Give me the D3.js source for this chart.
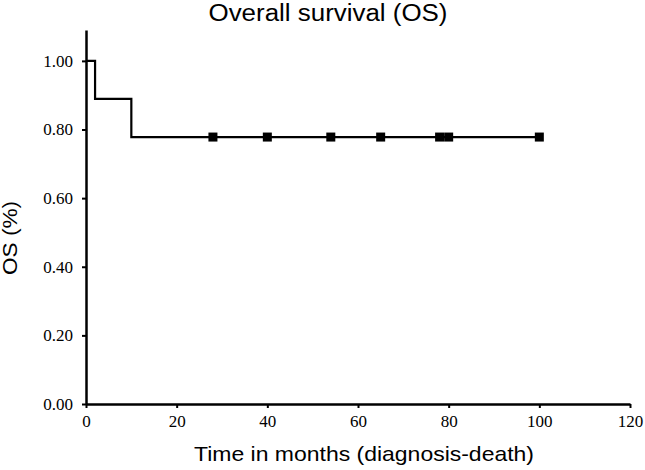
<!DOCTYPE html>
<html>
<head>
<meta charset="utf-8">
<script src="https://cdn.jsdelivr.net/npm/d3@7"></script>
<style>
  body { margin: 0; background: #fff; }
</style>
</head>
<body>
<script>
// survival steps: time (months) where survival changes, and the level after it
var stepTimes = [0, 2, 10, 100];
var stepLevels = [1.0, 0.889, 0.778, 0.778];
// censored patients (months)
var censorTimes = [28, 40, 54, 65, 78, 80, 100];
var xTicks = [0, 20, 40, 60, 80, 100, 120];
var yTicks = [0, 0.2, 0.4, 0.6, 0.8, 1.0];

function drawChart() {
  var width = 645, height = 470;
  var svg = d3.select("body").append("svg")
    .attr("width", width)
    .attr("height", height);

  var x = d3.scaleLinear().domain([0, 120]).range([86, 630]);
  var y = d3.scaleLinear().domain([0, 1.09]).range([404, 30]);

  // axes
  svg.append("g")
    .attr("transform", "translate(0," + y(0) + ")")
    .call(d3.axisBottom(x).tickValues(xTicks).tickSize(4).tickSizeOuter(0).tickFormat(d3.format("d")))
    .call(function(g) {
      g.select(".domain").attr("stroke-width", 2.5);
      g.selectAll(".tick line").attr("stroke-width", 2);
      g.selectAll("text").attr("font-family", "Liberation Serif").attr("font-size", 17)
        .attr("fill", "#000").attr("y", 23).attr("dy", 0);
    });

  svg.append("g")
    .attr("transform", "translate(" + x(0) + ",0)")
    .call(d3.axisLeft(y).tickValues(yTicks).tickSize(4).tickSizeOuter(0).tickFormat(d3.format(".2f")))
    .call(function(g) {
      g.select(".domain").attr("stroke-width", 2.5);
      g.selectAll(".tick line").attr("stroke-width", 2);
      g.selectAll("text").attr("font-family", "Liberation Serif").attr("font-size", 17)
        .attr("fill", "#000").attr("x", -13);
    });

  // KM step line
  var pts = stepTimes.map(function(t, i) { return [t, stepLevels[i]]; });
  var line = d3.line()
    .x(function(d) { return x(d[0]); })
    .y(function(d) { return y(d[1]); })
    .curve(d3.curveStepAfter);

  svg.append("path")
    .attr("d", line(pts))
    .attr("fill", "none")
    .attr("stroke", "#000")
    .attr("stroke-width", 2.2);

  // censor marks
  var lastLevel = stepLevels[stepLevels.length - 1];
  var s = 9;
  svg.selectAll("rect.censor")
    .data(censorTimes)
    .enter().append("rect")
    .attr("class", "censor")
    .attr("x", function(d) { return x(d) - s / 2; })
    .attr("y", y(lastLevel) - s / 2)
    .attr("width", s)
    .attr("height", s)
    .attr("fill", "#000");

  // titles
  svg.append("text")
    .attr("x", 328).attr("y", 21)
    .attr("text-anchor", "middle")
    .attr("font-family", "Liberation Sans")
    .attr("font-size", 23)
    .attr("textLength", 239)
    .attr("lengthAdjust", "spacingAndGlyphs")
    .text("Overall survival (OS)");

  svg.append("text")
    .attr("x", 364).attr("y", 461)
    .attr("text-anchor", "middle")
    .attr("font-family", "Liberation Sans")
    .attr("font-size", 21)
    .attr("textLength", 340)
    .attr("lengthAdjust", "spacingAndGlyphs")
    .text("Time in months (diagnosis-death)");

  svg.append("text")
    .attr("transform", "translate(17,238) rotate(-90)")
    .attr("text-anchor", "middle")
    .attr("font-family", "Liberation Sans")
    .attr("font-size", 20)
    .attr("textLength", 74)
    .attr("lengthAdjust", "spacingAndGlyphs")
    .text("OS (%)");
}

document.addEventListener("DOMContentLoaded", function() {
  drawChart();
});
</script>
</body>
</html>
